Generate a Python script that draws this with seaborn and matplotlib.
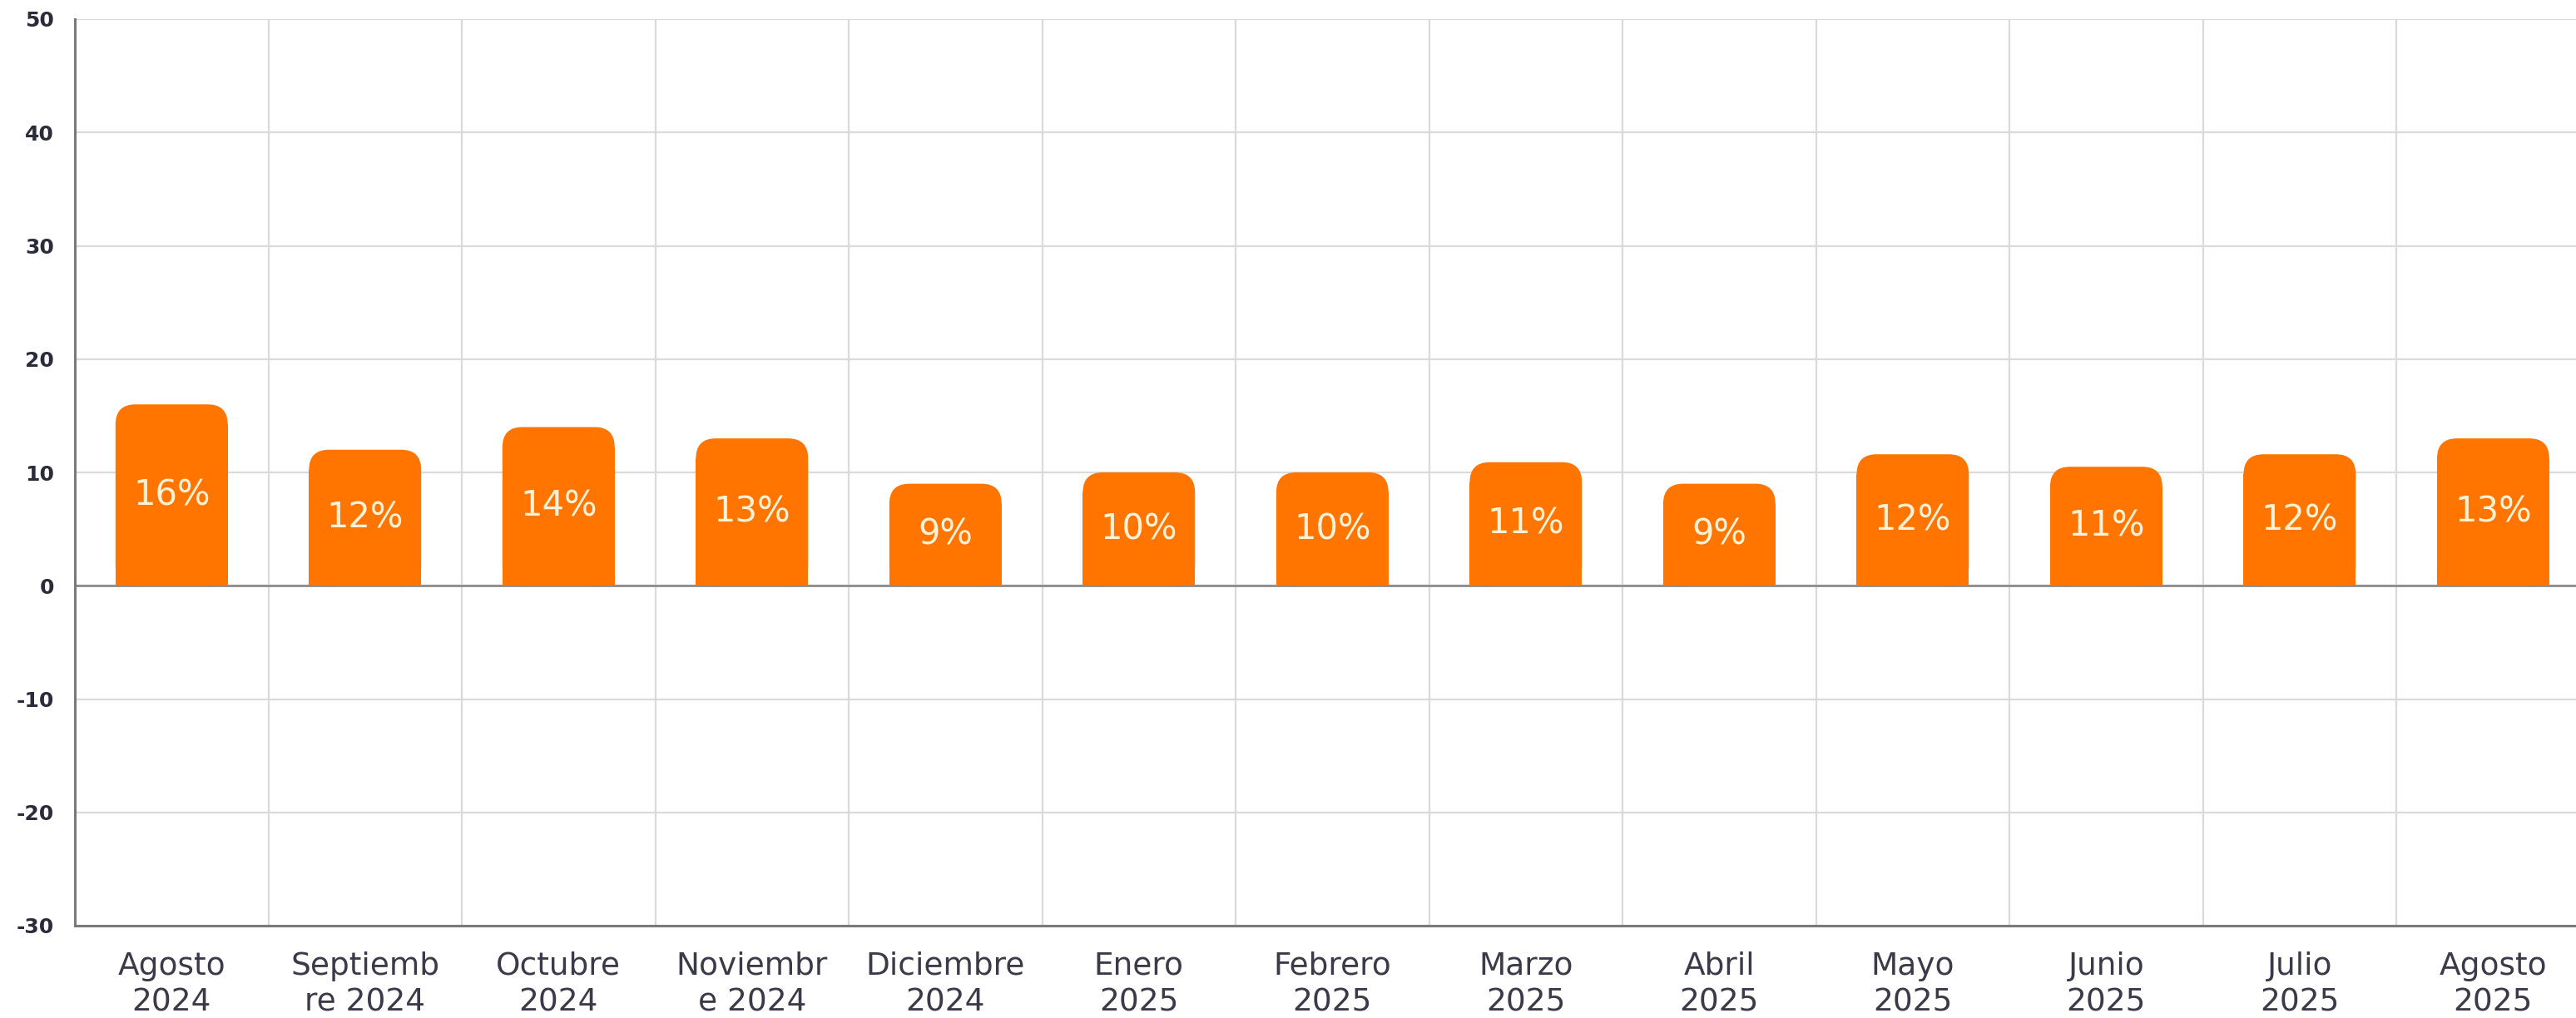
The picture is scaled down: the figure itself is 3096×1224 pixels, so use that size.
import matplotlib
matplotlib.use("Agg")
import matplotlib.pyplot as plt
import seaborn as sns
import pandas as pd
from matplotlib.patches import FancyBboxPatch

# --- Data ---
months = ["Agosto\n2024", "Septiemb\nre 2024", "Octubre\n2024", "Noviembr\ne 2024",
          "Diciembre\n2024", "Enero\n2025", "Febrero\n2025", "Marzo\n2025",
          "Abril\n2025", "Mayo\n2025", "Junio\n2025", "Julio\n2025", "Agosto\n2025"]
values = [16, 12, 14, 13, 9, 10, 10, 10.9, 9, 11.6, 10.5, 11.6, 13]
labels = ["16%", "12%", "14%", "13%", "9%", "10%", "10%", "11%", "9%", "12%", "11%", "12%", "13%"]
y_ticks = [-30, -20, -10, 0, 10, 20, 30, 40, 50]

BAR_COLOR = "#FF7500"
TEXT_ON_BAR = "#FFF1D6"
GRID = "#DADADA"
AXIS = "#7A7A7A"

sns.set_theme(style="white")
plt.rcParams['font.family'] = ['DejaVu Sans']
plt.rcParams['axes.unicode_minus'] = False

df = pd.DataFrame({"month": months, "value": values})

fig = plt.figure(figsize=(30.96, 12.24), dpi=100)
ax = fig.add_axes([90 / 3096, 111 / 1224, 1 - 90 / 3096 + 0.0005, (1113 - 23) / 1224])

sns.barplot(data=df, x="month", y="value", color=BAR_COLOR, width=0.58,
            saturation=1, linewidth=0, edgecolor="none", ax=ax, zorder=3)

ax.set_xlim(-0.5, 12.435)
ax.set_ylim(-30, 50)

# --- Rounded top corners: shorten the seaborn bar, put a rounded box on top ---
px_x = 232.4           # pixels per category
px_y = 1090 / 80       # pixels per y unit
r_px = 24
rx = r_px / px_x
ry = r_px / px_y
for patch, lab in zip(list(ax.patches), labels):
    x0 = patch.get_x()
    w = patch.get_width()
    h = patch.get_height()
    patch.set_height(h - ry)
    patch.set_edgecolor("none")
    patch.set_linewidth(0)
    cap = FancyBboxPatch((x0 + rx, ry), w - 2 * rx, h - 2 * ry,
                         boxstyle=f"round,pad={rx},rounding_size={rx}",
                         mutation_aspect=ry / rx,
                         facecolor=BAR_COLOR, edgecolor="none", linewidth=0,
                         zorder=3)
    ax.add_patch(cap)
    ax.text(x0 + w / 2, h / 2, lab, ha="center", va="center",
            color=TEXT_ON_BAR, fontsize=30, zorder=4)

# grid: horizontal at y ticks, vertical at category boundaries
ax.set_yticks(y_ticks)
ax.set_xticks(range(len(months)))
ax.set_xticks([i + 0.5 for i in range(len(months) - 1)], minor=True)
ax.grid(True, axis="y", which="major", color=GRID, linewidth=1.6, zorder=0)
ax.grid(True, axis="x", which="minor", color=GRID, linewidth=1.6, zorder=0)
ax.axhline(0, color="#8C8C8C", linewidth=2, zorder=2)

for side in ["top", "right"]:
    ax.spines[side].set_visible(False)
for side in ["left", "bottom"]:
    ax.spines[side].set_color(AXIS)
    ax.spines[side].set_linewidth(2.2)

ax.tick_params(axis="x", which="major", length=12, width=2, color=AXIS,
               labelsize=27, labelcolor="#3A3A48", pad=10)
ax.tick_params(axis="x", which="minor", length=0)
ax.tick_params(axis="y", length=10, width=2, color=AXIS,
               labelsize=18, labelcolor="#2B2B3B", pad=8)
for t in ax.get_yticklabels():
    t.set_fontweight("bold")
for t in ax.get_xticklabels():
    t.set_linespacing(1.3)

ax.set_xlabel("")
ax.set_ylabel("")

fig.savefig("out.png", dpi=100)
